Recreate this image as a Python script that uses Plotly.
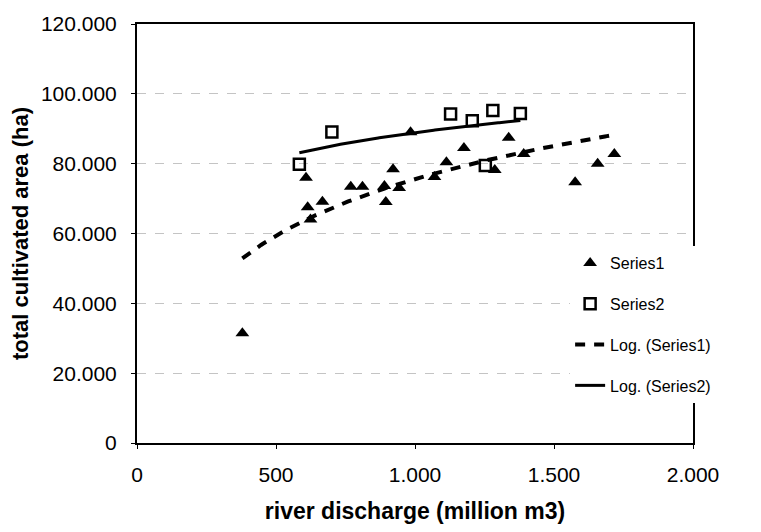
import numpy as np
import plotly.graph_objects as go

# Series1 (triangles)
s1_x = [379, 608, 614, 624, 667, 769, 811, 890, 895, 921, 943, 984, 1070, 1113,
        1176, 1287, 1337, 1391, 1576, 1657, 1717]
s1_y = [31400, 76000, 67500, 64000, 69100, 73400, 73400, 73600, 69000, 78400,
        73000, 89000, 76200, 80400, 84500, 78200, 87400, 82800, 74700, 80000, 82800]

# Series2 (squares)
s2_x = [584, 701, 1128, 1206, 1253, 1280, 1379]
s2_y = [79800, 89100, 94250, 92300, 79500, 95200, 94400]

x_ticks = [0, 500, 1000, 1500, 2000]
y_ticks = [0, 20000, 40000, 60000, 80000, 100000, 120000]


def log_trend(xs, ys):
    lx = np.log(np.asarray(xs, float))
    a, b = np.polyfit(lx, np.asarray(ys, float), 1)
    xx = np.linspace(min(xs), max(xs), 200)
    return xx, a * np.log(xx) + b


t1x, t1y = log_trend(s1_x, s1_y)
t2x, t2y = log_trend(s2_x, s2_y)

FONT = "Liberation Sans, Arial, sans-serif"

fig = go.Figure()
fig.add_trace(go.Scatter(
    x=s1_x, y=s1_y, mode="markers", name="Series1", legendgroup="a",
    marker=dict(symbol="triangle-up", size=12, color="black")))
fig.add_trace(go.Scatter(
    x=s2_x, y=s2_y, mode="markers", name="Series2", legendgroup="b",
    marker=dict(symbol="square-open", size=11, color="black",
                line=dict(width=2.5, color="black"))))
fig.add_trace(go.Scatter(
    x=t1x, y=t1y, mode="lines", name="Log. (Series1)", legendgroup="c",
    line=dict(color="black", width=4, dash="10px,9px")))
fig.add_trace(go.Scatter(
    x=t2x, y=t2y, mode="lines", name="Log. (Series2)", legendgroup="d",
    line=dict(color="black", width=3)))

fig.update_layout(
    width=761, height=532,
    margin=dict(l=137, r=68, t=15, b=87),
    paper_bgcolor="white", plot_bgcolor="white",
    separators=",.",
    font=dict(family=FONT, color="black"),
    showlegend=True,
    legend=dict(
        x=0.779, y=0.47, xanchor="left", yanchor="top",
        bgcolor="white", borderwidth=0,
        font=dict(size=16, family=FONT),
        traceorder="grouped", tracegroupgap=17,
    ),
    xaxis=dict(
        range=[0, 2000], tickvals=x_ticks, tickformat=",d",
        tickfont=dict(size=21), showgrid=False, zeroline=False,
        showline=True, linecolor="black", linewidth=2, mirror=True,
        ticks="outside", ticklen=4, tickcolor="black",
        ticklabelstandoff=8,
        title=dict(text="<b>river discharge (million m3)</b>",
                   font=dict(size=23), standoff=18),
    ),
    yaxis=dict(
        range=[0, 120000], tickvals=y_ticks, tickformat=",d",
        tickfont=dict(size=21), showgrid=True, gridcolor="#c4c4c4",
        griddash="dash", gridwidth=1, zeroline=False,
        showline=True, linecolor="black", linewidth=2, mirror=True,
        ticks="outside", ticklen=4, tickcolor="black",
        ticklabelstandoff=10,
        title=dict(text="<b>total cultivated area (ha)</b>",
                   font=dict(size=22), standoff=6),
    ),
)

fig.write_html("out.html")
